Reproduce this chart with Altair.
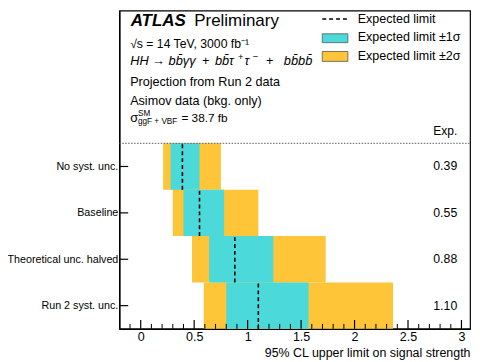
import altair as alt
import pandas as pd

# ---- data ----
labels = ["No syst. unc.", "Baseline", "Theoretical unc. halved", "Run 2 syst. unc."]
expected = [0.39, 0.55, 0.88, 1.10]
exp_text = ["0.39", "0.55", "0.88", "1.10"]
minus2 = [0.21, 0.30, 0.48, 0.59]
minus1 = [0.28, 0.40, 0.64, 0.80]
plus1 = [0.55, 0.78, 1.24, 1.57]
plus2 = [0.75, 1.10, 1.73, 2.36]

major_ticks = [0, 0.5, 1, 1.5, 2, 2.5, 3]
minor_ticks = [-0.1, 0.1, 0.2, 0.3, 0.4, 0.6, 0.7, 0.8, 0.9, 1.1, 1.2, 1.3, 1.4,
               1.6, 1.7, 1.8, 1.9, 2.1, 2.2, 2.3, 2.4, 2.6, 2.7, 2.8, 2.9, 3.0]

W, H = 356, 323
XDOM = [-0.2, 3.08]
YDOM = [0, 6.86]
FONT = "Liberation Sans"
CYAN = "#4cd9d9"
YELLOW = "#fdc537"

n = len(labels)
pos = [n - i - 0.5 for i in range(n)]
df = pd.DataFrame({
    "label": labels, "exp": expected, "txt": exp_text,
    "m2": minus2, "m1": minus1, "p1": plus1, "p2": plus2,
    "pos": pos,
    "lo": [p - 0.5 for p in pos], "hi": [p + 0.5 for p in pos],
})

xs = alt.Scale(domain=XDOM, nice=False, zero=False)
ys = alt.Scale(domain=YDOM, nice=False, zero=False)

label_expr = " : ".join(
    f"datum.value == {p} ? '{l}'" for p, l in zip(pos, labels)
) + " : ''"

base = alt.Chart(df)

band2 = base.mark_bar(color=YELLOW, opacity=1).encode(
    x=alt.X("m2:Q", scale=xs, axis=alt.Axis(
        values=major_ticks, format="~g", title="95% CL upper limit on signal strength",
        titleX=W, titleY=28, titleAnchor="end", titleAlign="right",
        titleBaseline="alphabetic", titleFont=FONT, titleFontSize=12.6,
        titleFontWeight="normal", titleColor="black",
        labelFont=FONT, labelFontSize=12.7, labelColor="black", labelPadding=2,
        ticks=False, grid=False, domainColor="black", domainWidth=1.5,
        labelFlush=False)),
    x2="p2:Q",
    y=alt.Y("lo:Q", scale=ys, axis=alt.Axis(
        values=pos, labelExpr=label_expr, title=None, ticks=False, grid=False,
        labelFont=FONT, labelFontSize=10.9, labelColor="black", labelPadding=1.5,
        labelLimit=200, domainColor="black", domainWidth=1.5)),
    y2="hi:Q",
)
band1 = base.mark_bar(color=CYAN, opacity=1).encode(
    x=alt.X("m1:Q", scale=xs), x2="p1:Q",
    y=alt.Y("lo:Q", scale=ys), y2="hi:Q",
)
median = base.mark_rule(color="black", strokeDash=[4, 3], strokeWidth=1.6).encode(
    x=alt.X("exp:Q", scale=xs),
    y=alt.Y("lo:Q", scale=ys), y2="hi:Q",
)
vals = base.mark_text(font=FONT, fontSize=12.5, align="right", baseline="middle",
                      color="black").encode(
    x=alt.value(343), y=alt.Y("pos:Q", scale=ys), text="txt:N")

# y ticks (inward)
yticks = base.mark_rule(color="black", strokeWidth=1.2).encode(
    x=alt.value(0), x2=alt.value(9), y=alt.Y("pos:Q", scale=ys))

# x ticks (inward)
tmaj = alt.Chart(pd.DataFrame({"v": major_ticks})).mark_rule(
    color="black", strokeWidth=1.2).encode(
    x=alt.X("v:Q", scale=xs), y=alt.value(H), y2=alt.value(H - 9))
tmin = alt.Chart(pd.DataFrame({"v": minor_ticks})).mark_rule(
    color="black", strokeWidth=1).encode(
    x=alt.X("v:Q", scale=xs), y=alt.value(H), y2=alt.value(H - 5))

# dotted separator
sep = alt.Chart(pd.DataFrame({"s": [n]})).mark_rule(
    color="#555555", strokeDash=[1.5, 1.5], strokeWidth=1).encode(
    y=alt.Y("s:Q", scale=ys), x=alt.value(0), x2=alt.value(W))


def txt(s, x, y, size=12.8, weight="normal", style="normal", align="left"):
    return alt.Chart(pd.DataFrame({"t": [s]})).mark_text(
        font=FONT, fontSize=size, fontWeight=weight, fontStyle=style,
        align=align, baseline="alphabetic", color="black").encode(
        x=alt.value(x), y=alt.value(y), text="t:N")


# coordinates below are plot-area pixels (page x - 121, page y - 8)
BAR = "b\u0304"
header = [
    txt("ATLAS", 11.5, 15.5, size=17.2, weight="bold", style="italic"),
    txt("Preliminary", 76, 15.5, size=17.2),
    txt("\u221as = 14 TeV, 3000 fb\u207b\u00b9", 11, 37.5, size=12.4),
    txt("HH \u2192 b" + BAR + "\u03b3\u03b3", 11, 55.5, size=13, style="italic"),
    txt("+", 84, 55.5, size=13),
    txt("b" + BAR + "\u03c4", 97, 55.5, size=13, style="italic"),
    txt("+", 120.5, 50, size=9.5),
    txt("\u03c4", 127, 55.5, size=13, style="italic"),
    txt("\u2212", 135.5, 50, size=9.5),
    txt("+", 149, 55.5, size=13),
    txt("b" + BAR + "b" + BAR, 167, 55.5, size=13, style="italic"),
    txt("Projection from Run 2 data", 11, 77),
    txt("Asimov data (bkg. only)", 11, 95.5),
    txt("\u03c3", 11, 113, size=13),
    txt("SM", 19, 107, size=8.3),
    txt("ggF + VBF", 19, 115.5, size=8.3),
    txt("= 38.7 fb", 63, 113, size=12),
    txt("Exp.", 343, 126.5, size=12.2, align="right"),
    txt("Expected limit", 242, 13, size=12.7),
    txt("Expected limit \u00b11\u03c3", 242, 31, size=12.7),
    txt("Expected limit \u00b12\u03c3", 242, 50, size=12.7),
]

one = pd.DataFrame({"a": [0]})
leg_line = alt.Chart(one).mark_rule(color="black", strokeDash=[4, 3], strokeWidth=1.3).encode(
    x=alt.value(206), x2=alt.value(232), y=alt.value(8.5))
leg_c = alt.Chart(one).mark_rect(color=CYAN, stroke="#555555", strokeWidth=0.8).encode(
    x=alt.value(206), x2=alt.value(232), y=alt.value(23.5), y2=alt.value(32.5))
leg_y = alt.Chart(one).mark_rect(color=YELLOW, stroke="#555555", strokeWidth=0.8).encode(
    x=alt.value(206), x2=alt.value(232), y=alt.value(41.5), y2=alt.value(51.5))

chart = alt.layer(
    band2, band1, median, vals, yticks, tmaj, tmin, sep,
    leg_line, leg_c, leg_y, *header
).properties(
    width=W, height=H,
    autosize=alt.AutoSizeParams(type="none"),
    padding={"left": 113, "top": 0, "right": 2, "bottom": 31},
).configure_view(stroke="black", strokeWidth=1.2)

chart.save("out.html", embed_options={"renderer": "svg", "actions": False})
